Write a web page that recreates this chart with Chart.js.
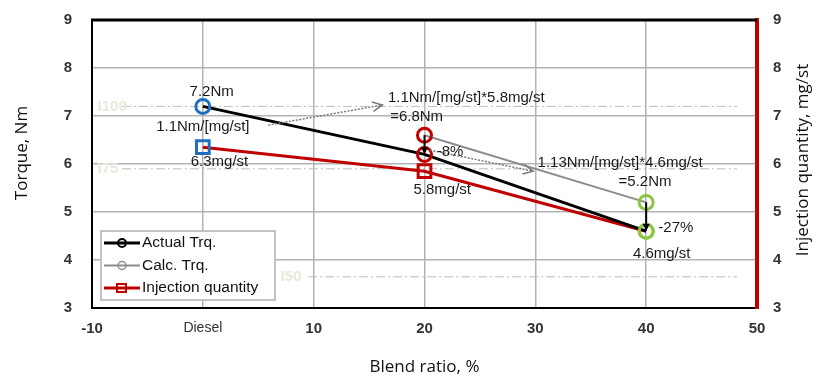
<!DOCTYPE html>
<html>
<head>
<meta charset="utf-8">
<script src="https://cdn.jsdelivr.net/npm/chart.js@4.4.1/dist/chart.umd.min.js"></script>
<style>
  body { margin: 0; background: #fff; }
</style>
</head>
<body>
<canvas id="chart" width="815" height="379"></canvas>
<script>
// blend ratio (%), 0 = Diesel
var blendRatio = [0, 20, 40];
var actualTorque = [7.2, 6.2, 4.6];
var calcTorque = [null, 6.6, 5.2];
var injectionQty = [6.35, 5.85, 4.6];
var pointColors = ['#1f6fc0', '#c00000', '#8cc63f'];

// reference levels (dash-dot)
var refLevels = [7.2, 5.9, 3.65];
var refLabels = ['I100', 'I75', 'I50'];
var refLabelX = [-9.5, -9.5, 7.0];

// text labels [x, y, text, align]
var notes = [
  [0.8, 7.5, '7.2Nm', 'center'],
  [0.0, 6.77, '1.1Nm/[mg/st]', 'center'],
  [1.5, 6.05, '6.3mg/st', 'center'],
  [16.7, 7.37, '1.1Nm/[mg/st]*5.8mg/st', 'left'],
  [16.9, 6.98, '=6.8Nm', 'left'],
  [21.1, 6.26, '-8%', 'left'],
  [21.6, 5.46, '5.8mg/st', 'center'],
  [30.2, 6.02, '1.13Nm/[mg/st]*4.6mg/st', 'left'],
  [39.9, 5.63, '=5.2Nm', 'center'],
  [41.1, 4.67, '-27%', 'left'],
  [41.4, 4.13, '4.6mg/st', 'center']
];

// dotted grey arrows [x0, y0, x1, y1]
var greyArrows = [
  [5.9, 6.81, 16.2, 7.23],
  [20.5, 6.29, 29.8, 5.85]
];
// black arrows calc -> actual
var blackArrows = [
  [20, 6.6, 20, 6.2],
  [40, 5.2, 40, 4.6]
];

function pts(ys) {
  return blendRatio.map(function (x, i) { return { x: x, y: ys[i] }; });
}

function drawArrowHead(ctx, x0, y0, x1, y1, size, filled) {
  var a = Math.atan2(y1 - y0, x1 - x0);
  ctx.beginPath();
  ctx.moveTo(x1 - size * Math.cos(a - 0.45), y1 - size * Math.sin(a - 0.45));
  ctx.lineTo(x1, y1);
  ctx.lineTo(x1 - size * Math.cos(a + 0.45), y1 - size * Math.sin(a + 0.45));
  if (filled) { ctx.closePath(); ctx.fill(); } else { ctx.stroke(); }
}

function noPad(s) {
  s.paddingTop = 0; s.paddingBottom = 0; s.paddingLeft = 0; s.paddingRight = 0;
}

var extras = {
  id: 'extras',
  beforeDatasetsDraw: function (chart) {
    var ctx = chart.ctx, xs = chart.scales.x, ys = chart.scales.y;
    ctx.save();
    ctx.strokeStyle = '#bdbdbd';
    ctx.lineWidth = 1;
    ctx.setLineDash([9, 3, 2, 3]);
    refLevels.forEach(function (v, i) {
      var y = ys.getPixelForValue(v);
      var x0 = i == 2 ? xs.getPixelForValue(9.5) : xs.getPixelForValue(-7.3);
      ctx.beginPath();
      ctx.moveTo(x0, y);
      ctx.lineTo(xs.getPixelForValue(48.2), y);
      ctx.stroke();
    });
    ctx.setLineDash([]);
    ctx.fillStyle = '#ebe7da';
    ctx.font = 'bold 15px "Liberation Sans"';
    ctx.textBaseline = 'middle';
    refLabels.forEach(function (t, i) {
      ctx.fillText(t, xs.getPixelForValue(refLabelX[i]), ys.getPixelForValue(refLevels[i]));
    });
    ctx.restore();
  },
  afterDatasetsDraw: function (chart) {
    var ctx = chart.ctx, xs = chart.scales.x, ys = chart.scales.y, a = chart.chartArea;
    ctx.save();
    // grey dotted arrows
    ctx.strokeStyle = '#7a7a7a';
    ctx.lineWidth = 1.5;
    greyArrows.forEach(function (r) {
      var x0 = xs.getPixelForValue(r[0]), y0 = ys.getPixelForValue(r[1]);
      var x1 = xs.getPixelForValue(r[2]), y1 = ys.getPixelForValue(r[3]);
      ctx.setLineDash([2, 1.5]);
      ctx.beginPath(); ctx.moveTo(x0, y0); ctx.lineTo(x1, y1); ctx.stroke();
      ctx.setLineDash([]);
      drawArrowHead(ctx, x0, y0, x1, y1, 11, false);
    });
    // black arrows
    ctx.strokeStyle = '#000';
    ctx.fillStyle = '#000';
    ctx.lineWidth = 2;
    blackArrows.forEach(function (r) {
      var x0 = xs.getPixelForValue(r[0]), y0 = ys.getPixelForValue(r[1]);
      var x1 = xs.getPixelForValue(r[2]), y1 = ys.getPixelForValue(r[3]);
      ctx.beginPath(); ctx.moveTo(x0, y0); ctx.lineTo(x1, y1 - 5); ctx.stroke();
      drawArrowHead(ctx, x0, y0, x1, y1, 8, true);
    });
    // text notes
    ctx.fillStyle = '#1a1a1a';
    ctx.font = '15px "Liberation Sans"';
    ctx.textBaseline = 'middle';
    notes.forEach(function (n) {
      ctx.textAlign = n[3];
      ctx.fillText(n[2], xs.getPixelForValue(n[0]), ys.getPixelForValue(n[1]));
    });
    // top frame
    ctx.strokeStyle = '#000';
    ctx.lineWidth = 3;
    ctx.beginPath(); ctx.moveTo(a.left - 1, a.top); ctx.lineTo(a.right, a.top); ctx.stroke();
    ctx.restore();
  },
  afterDraw: function (chart) {
    var ctx = chart.ctx, a = chart.chartArea;
    ctx.save();
    // axis titles
    ctx.fillStyle = '#111';
    ctx.font = '17px "Open Sans"';
    ctx.textAlign = 'center';
    ctx.textBaseline = 'middle';
    ctx.fillText('Blend ratio, %', (a.left + a.right) / 2, 367);
    ctx.translate(22, 153);
    ctx.rotate(-Math.PI / 2);
    ctx.fillText('Torque, Nm', 0, 0);
    ctx.restore();
    ctx.save();
    ctx.fillStyle = '#111';
    ctx.font = '17px "Open Sans"';
    ctx.textAlign = 'center';
    ctx.textBaseline = 'middle';
    ctx.translate(803, 160);
    ctx.rotate(-Math.PI / 2);
    ctx.fillText('Injection quantity, mg/st', 0, 0);
    ctx.restore();

    // legend
    ctx.save();
    var lx = 101, ly = 231, lw = 174, lh = 69;
    ctx.fillStyle = '#fff';
    ctx.fillRect(lx, ly, lw, lh);
    ctx.strokeStyle = '#b0b0b0';
    ctx.lineWidth = 1.5;
    ctx.strokeRect(lx, ly, lw, lh);
    ctx.font = '15.5px "Liberation Sans"';
    ctx.textBaseline = 'middle';
    chart.data.datasets.forEach(function (ds, i) {
      var y = ly + 12 + i * 22.5;
      ctx.strokeStyle = ds.borderColor;
      ctx.lineWidth = ds.borderWidth;
      ctx.beginPath(); ctx.moveTo(lx + 3, y); ctx.lineTo(lx + 39, y); ctx.stroke();
      ctx.lineWidth = i == 1 ? 1.5 : 2;
      ctx.beginPath();
      if (i == 2) ctx.rect(lx + 16, y - 4, 9, 8);
      else ctx.arc(lx + 21, y, 4, 0, Math.PI * 2);
      ctx.stroke();
      ctx.fillStyle = '#111';
      ctx.fillText(ds.label, lx + 41, y);
    });
    ctx.restore();
  }
};

var tickFont = { family: 'Liberation Sans', size: 15, weight: 'bold' };

new Chart(document.getElementById('chart'), {
  type: 'line',
  data: {
    datasets: [{
      label: 'Actual Trq.',
      data: pts(actualTorque),
      borderColor: '#000',
      borderWidth: 3,
      pointStyle: 'circle',
      radius: 7,
      pointBorderWidth: 3,
      pointBorderColor: pointColors,
      pointBackgroundColor: 'rgba(0,0,0,0)'
    }, {
      label: 'Calc. Trq.',
      data: pts(calcTorque),
      borderColor: '#8c8c8c',
      borderWidth: 2,
      pointStyle: 'circle',
      radius: 7,
      pointBorderWidth: 3,
      pointBorderColor: pointColors,
      pointBackgroundColor: 'rgba(0,0,0,0)'
    }, {
      label: 'Injection quantity',
      data: pts(injectionQty),
      yAxisID: 'y2',
      borderColor: '#c00000',
      borderWidth: 3,
      pointStyle: ['rect', 'rect', 'circle'],
      radius: [9, 9, 7],
      pointBorderWidth: 3,
      pointBorderColor: pointColors,
      pointBackgroundColor: 'rgba(0,0,0,0)'
    }]
  },
  options: {
    responsive: false,
    animation: false,
    layout: { padding: { top: 20, left: 0, right: 0, bottom: 0 } },
    plugins: {
      legend: { display: false },
      tooltip: { enabled: false }
    },
    scales: {
      x: {
        type: 'linear',
        min: -10,
        max: 50,
        afterFit: function (s) { s.height = 71; noPad(s); },
        ticks: {
          stepSize: 10,
          padding: 12,
          color: '#333',
          callback: function (v) { return v === 0 ? 'Diesel' : v; },
          font: function (c) {
            if (c.tick && c.tick.value === 0) return { family: 'Liberation Sans', size: 14 };
            return tickFont;
          }
        },
        grid: { color: '#b3b3b3', lineWidth: 1.5, drawTicks: false },
        border: { color: '#000', width: 2 }
      },
      y: {
        position: 'left',
        min: 3,
        max: 9,
        afterFit: function (s) { s.width = 92; noPad(s); },
        ticks: { stepSize: 1, padding: 20, color: '#333', font: tickFont },
        grid: { color: '#b3b3b3', lineWidth: 1.5, drawTicks: false },
        border: { color: '#000', width: 2 }
      },
      y2: {
        position: 'right',
        min: 3,
        max: 9,
        afterFit: function (s) { s.width = 58; noPad(s); },
        ticks: { stepSize: 1, padding: 16, color: '#333', font: tickFont },
        grid: { display: false, drawTicks: false },
        border: { color: '#c00000', width: 4 }
      }
    }
  },
  plugins: [extras]
});
</script>
</body>
</html>
